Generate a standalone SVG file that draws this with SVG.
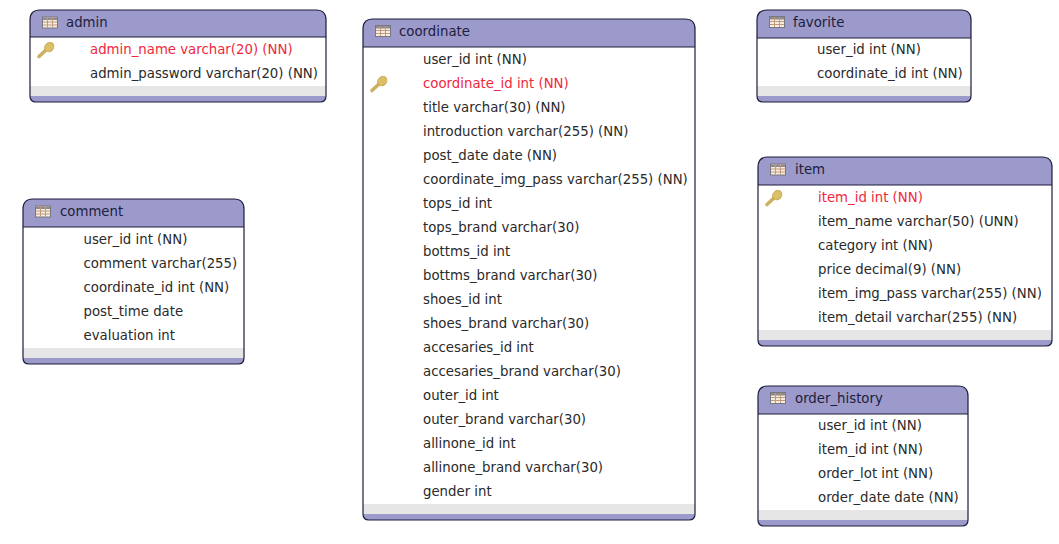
<svg xmlns="http://www.w3.org/2000/svg" width="1059" height="544" viewBox="0 0 1059 544">
<style>
.box{fill:#fff;stroke:none}
.hd{fill:#9c99cb}
.ft{fill:#e6e6e6}
.out{fill:none;stroke:#1d1d3c;stroke-width:1.2}
.ln{stroke:#1d1d3c;stroke-width:1.2}
text{font-family:"DejaVu Sans",Verdana,sans-serif;font-size:13.3px;fill:#2a2a2a}
.t{font-size:13.3px;fill:#1d1d3c}
.r{fill:#f0283c}
</style>
<defs>
<g id="tb"><rect x="0.5" y="0.5" width="15" height="11" fill="#f7eedd" stroke="#77777f"/><rect x="1" y="1" width="14" height="2.5" fill="#8f8a8c"/><path d="M5.5 1V11M10.5 1V11M1 5.5H15M1 8.5H15" stroke="#c09a80" stroke-width="1" fill="none"/></g>
<g id="key"><path d="M3 15.5L11 8" stroke="#cdb063" stroke-width="3.6" stroke-linecap="round" fill="none"/><ellipse cx="13.2" cy="6.2" rx="5" ry="4.2" transform="rotate(-45 13.2 6.2)" fill="#dcc068" stroke="#c4a650"/></g>
</defs>
<g id="connectors"></g>
<g id="admin">
<path class="hd" d="M40 10H316Q326 10 326 20V37H30V20Q30 10 40 10Z"/><rect class="box" x="30" y="37" width="296" height="49"/><rect class="ft" x="30" y="86" width="296" height="10"/><path class="hd" d="M30 96H326Q326 102 320 102H36Q30 102 30 96Z"/>
<path class="out" d="M40 10H316Q326 10 326 20V96Q326 102 320 102H36Q30 102 30 96V20Q30 10 40 10Z"/><path class="ln" d="M30 37H326"/>
<use href="#tb" x="42" y="16.5"/><text class="t" x="66" y="27">admin</text><use href="#key" x="36" y="41"/>
<text class="r" x="90" y="54">admin_name varchar(20) (NN)</text><text x="90" y="78">admin_password varchar(20) (NN)</text>
</g>
<g id="comment">
<path class="hd" d="M33 199H234Q244 199 244 209V227H23V209Q23 199 33 199Z"/><rect class="box" x="23" y="227" width="221" height="121"/><rect class="ft" x="23" y="348" width="221" height="10"/><path class="hd" d="M23 358H244Q244 364 238 364H29Q23 364 23 358Z"/>
<path class="out" d="M33 199H234Q244 199 244 209V358Q244 364 238 364H29Q23 364 23 358V209Q23 199 33 199Z"/><path class="ln" d="M23 227H244"/>
<use href="#tb" x="35" y="205.5"/><text class="t" x="60" y="216">comment</text>
<text x="83.5" y="244">user_id int (NN)</text><text x="83.5" y="268">comment varchar(255)</text><text x="83.5" y="292">coordinate_id int (NN)</text><text x="83.5" y="316">post_time date</text><text x="83.5" y="340">evaluation int</text>
</g>
<g id="coordinate">
<path class="hd" d="M373 19H685Q695 19 695 29V47H363V29Q363 19 373 19Z"/><rect class="box" x="363" y="47" width="332" height="457"/><rect class="ft" x="363" y="504" width="332" height="10"/><path class="hd" d="M363 514H695Q695 520 689 520H369Q363 520 363 514Z"/>
<path class="out" d="M373 19H685Q695 19 695 29V514Q695 520 689 520H369Q363 520 363 514V29Q363 19 373 19Z"/><path class="ln" d="M363 47H695"/>
<use href="#tb" x="375" y="25"/><text class="t" x="399" y="36">coordinate</text><use href="#key" x="369" y="75"/>
<text x="423" y="64">user_id int (NN)</text><text class="r" x="423" y="88">coordinate_id int (NN)</text><text x="423" y="112">title varchar(30) (NN)</text><text x="423" y="136">introduction varchar(255) (NN)</text><text x="423" y="160">post_date date (NN)</text><text x="423" y="184">coordinate_img_pass varchar(255) (NN)</text><text x="423" y="208">tops_id int</text><text x="423" y="232">tops_brand varchar(30)</text><text x="423" y="256">bottms_id int</text><text x="423" y="280">bottms_brand varchar(30)</text><text x="423" y="304">shoes_id int</text><text x="423" y="328">shoes_brand varchar(30)</text><text x="423" y="352">accesaries_id int</text><text x="423" y="376">accesaries_brand varchar(30)</text><text x="423" y="400">outer_id int</text><text x="423" y="424">outer_brand varchar(30)</text><text x="423" y="448">allinone_id int</text><text x="423" y="472">allinone_brand varchar(30)</text><text x="423" y="496">gender int</text>
</g>
<g id="favorite">
<path class="hd" d="M767 10H961Q971 10 971 20V38H757V20Q757 10 767 10Z"/><rect class="box" x="757" y="38" width="214" height="48"/><rect class="ft" x="757" y="86" width="214" height="10"/><path class="hd" d="M757 96H971Q971 102 965 102H763Q757 102 757 96Z"/>
<path class="out" d="M767 10H961Q971 10 971 20V96Q971 102 965 102H763Q757 102 757 96V20Q757 10 767 10Z"/><path class="ln" d="M757 38H971"/>
<use href="#tb" x="769" y="16"/><text class="t" x="793" y="27">favorite</text>
<text x="817" y="54">user_id int (NN)</text><text x="817" y="78">coordinate_id int (NN)</text>
</g>
<g id="item">
<path class="hd" d="M768 157H1042Q1052 157 1052 167V185H758V167Q758 157 768 157Z"/><rect class="box" x="758" y="185" width="294" height="145"/><rect class="ft" x="758" y="330" width="294" height="10"/><path class="hd" d="M758 340H1052Q1052 346 1046 346H764Q758 346 758 340Z"/>
<path class="out" d="M768 157H1042Q1052 157 1052 167V340Q1052 346 1046 346H764Q758 346 758 340V167Q758 157 768 157Z"/><path class="ln" d="M758 185H1052"/>
<use href="#tb" x="770" y="163.5"/><text class="t" x="795" y="174">item</text><use href="#key" x="764" y="189"/>
<text class="r" x="818" y="202">item_id int (NN)</text><text x="818" y="226">item_name varchar(50) (UNN)</text><text x="818" y="250">category int (NN)</text><text x="818" y="274">price decimal(9) (NN)</text><text x="818" y="298">item_img_pass varchar(255) (NN)</text><text x="818" y="322">item_detail varchar(255) (NN)</text>
</g>
<g id="order_history">
<path class="hd" d="M768 386H958Q968 386 968 396V414H758V396Q758 386 768 386Z"/><rect class="box" x="758" y="414" width="210" height="96"/><rect class="ft" x="758" y="510" width="210" height="10"/><path class="hd" d="M758 520H968Q968 526 962 526H764Q758 526 758 520Z"/>
<path class="out" d="M768 386H958Q968 386 968 396V520Q968 526 962 526H764Q758 526 758 520V396Q758 386 768 386Z"/><path class="ln" d="M758 414H968"/>
<use href="#tb" x="770" y="392"/><text class="t" x="795" y="403">order_history</text>
<text x="818" y="430">user_id int (NN)</text><text x="818" y="454">item_id int (NN)</text><text x="818" y="478">order_lot int (NN)</text><text x="818" y="502">order_date date (NN)</text>
</g>
</svg>
